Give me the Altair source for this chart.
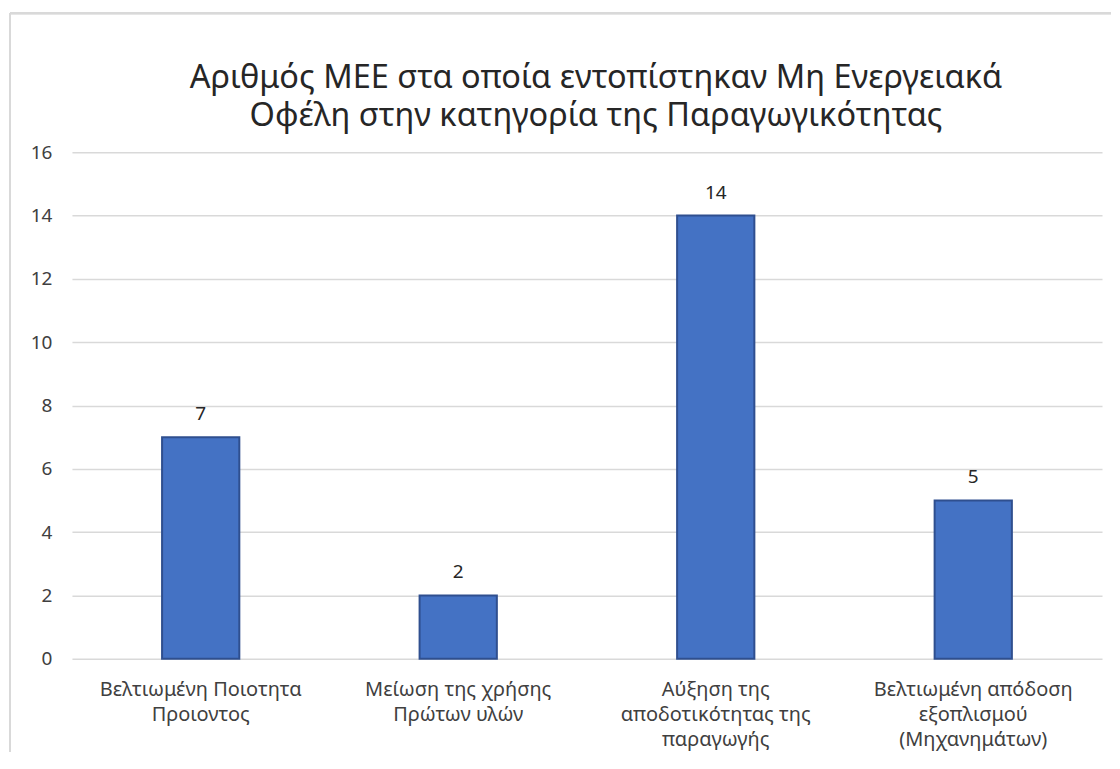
import altair as alt
import pandas as pd

categories = [
    "Βελτιωμένη Ποιοτητα\nΠροιοντος",
    "Μείωση της χρήσης\nΠρώτων υλών",
    "Αύξηση της\nαποδοτικότητας της\nπαραγωγής",
    "Βελτιωμένη απόδοση\nεξοπλισμού\n(Μηχανημάτων)",
]
values = [7, 2, 14, 5]
y_ticks = [0, 2, 4, 6, 8, 10, 12, 14, 16]
title_lines = [
    "Αριθμός ΜΕΕ στα οποία εντοπίστηκαν Μη Ενεργειακά",
    "Οφέλη στην κατηγορία της Παραγωγικότητας",
]

df = pd.DataFrame({"category": categories, "value": values})
FONT = "Noto Sans"

x = alt.X(
    "category:N",
    sort=categories,
    title=None,
    scale=alt.Scale(paddingInner=0.7, paddingOuter=0.35),
    axis=alt.Axis(
        labelExpr="split(datum.label, '\\n')",
        labelAngle=0,
        labelFontSize=20,
        labelLineHeight=25,
        labelColor="#404040",
        labelFont=FONT,
        labelPadding=21,
        labelLimit=300,
        ticks=False,
        domain=False,
        grid=False,
    ),
)
y = alt.Y(
    "value:Q",
    title=None,
    scale=alt.Scale(domain=[0, 16]),
    axis=alt.Axis(
        values=y_ticks,
        labelFontSize=19,
        labelColor="#404040",
        labelFont=FONT,
        labelPadding=20,
        ticks=False,
        domain=False,
        grid=True,
        gridColor="#D9D9D9",
        gridWidth=1.5,
    ),
)

bars = alt.Chart(df).mark_bar(
    color="#4472C4", stroke="#2F4F8F", strokeWidth=2
).encode(x=x, y=y)

labels = alt.Chart(df).mark_text(
    baseline="bottom", dy=-13, fontSize=19, color="#262626", font=FONT
).encode(x=alt.X("category:N", sort=categories), y="value:Q", text="value:Q")

border_top = alt.Chart(df).mark_rule(color="#D9D9D9", strokeWidth=2).encode(
    x=alt.value(-62), x2=alt.value(1040), y=alt.value(-139)
)
border_left = alt.Chart(df).mark_rule(color="#D9D9D9", strokeWidth=2).encode(
    x=alt.value(-62), y=alt.value(-139), y2=alt.value(600)
)

chart = (
    alt.layer(border_top, border_left, bars, labels)
    .properties(
        width=1031,
        height=507,
        autosize=alt.AutoSizeParams(type="pad"),
        padding={"left": 1, "top": 4, "right": 0, "bottom": 0},
        title=alt.TitleParams(
            text=title_lines,
            anchor="middle",
            fontSize=32.5,
            fontWeight="normal",
            font=FONT,
            color="#262626",
            lineHeight=38,
            offset=-120,
            dx=9,
        ),
    )
    .configure_view(stroke=None)
)

chart.save("out.html", embed_options={"renderer": "svg", "actions": False})
